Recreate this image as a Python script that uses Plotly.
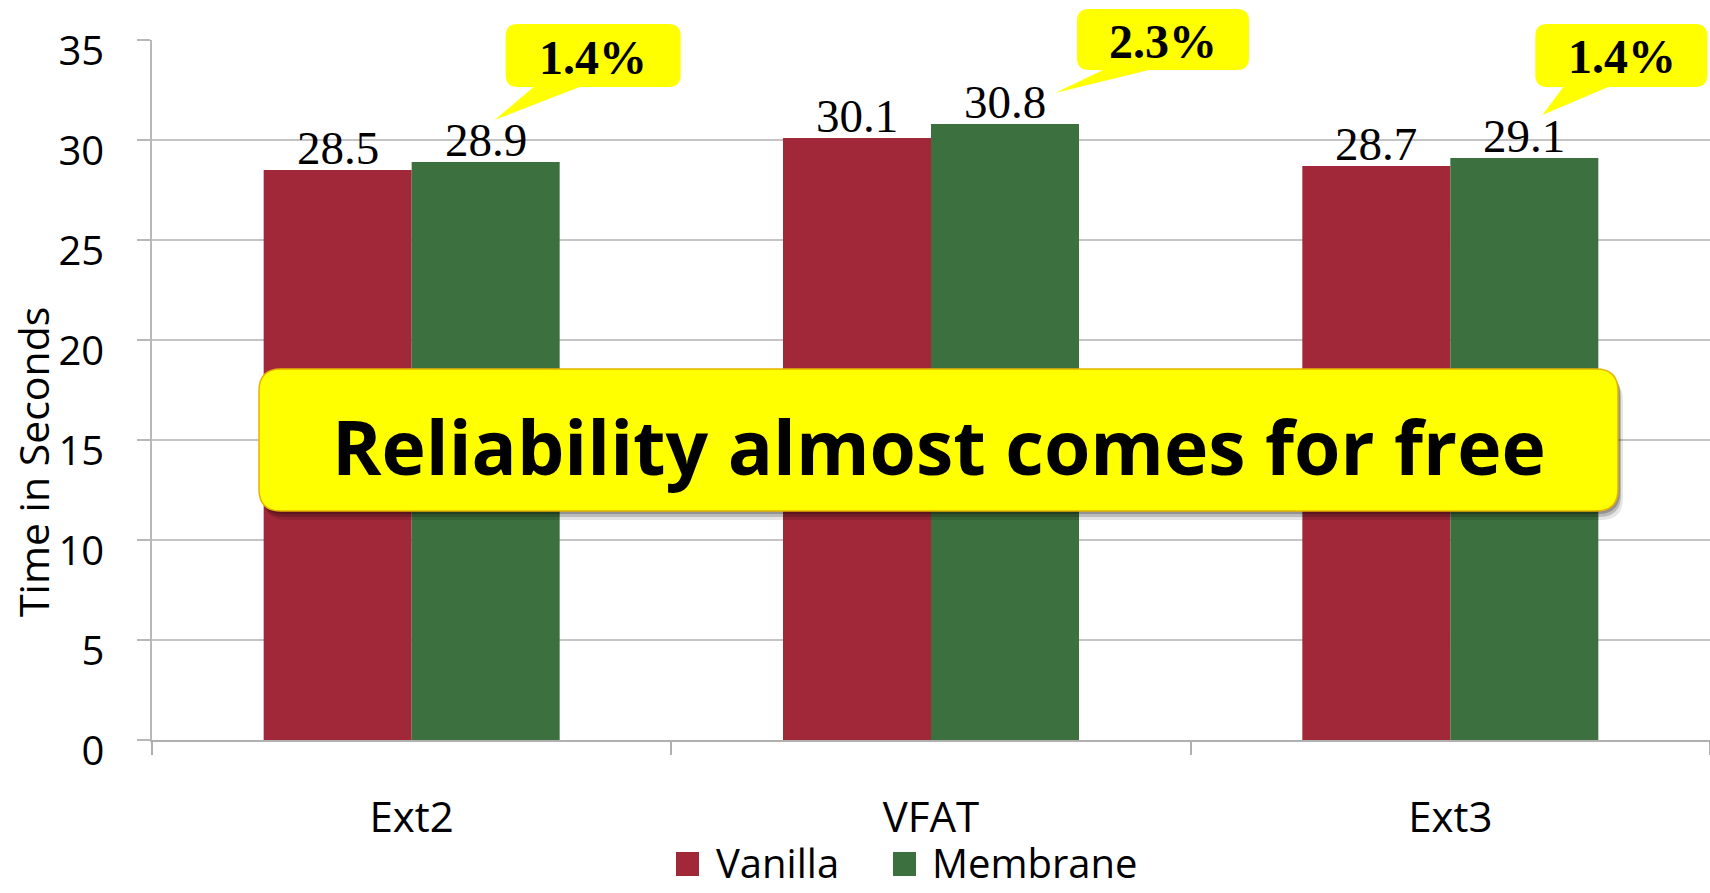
import plotly.graph_objects as go

# ---- data -------------------------------------------------------------
categories = ["Ext2", "VFAT", "Ext3"]
vanilla = [28.5, 30.1, 28.7]
membrane = [28.9, 30.8, 29.1]
overhead_labels = ["1.4%", "2.3%", "1.4%"]
y_ticks = [0, 5, 10, 15, 20, 25, 30, 35]
series_names = ["Vanilla", "Membrane"]
headline = "Reliability almost comes for free"
y_title = "Time in Seconds"

# ---- styling ----------------------------------------------------------
RED = "#A02838"
GREEN = "#3C703E"
YELLOW = "#FFFF00"
GRID = "#C4C4C4"
SANS = "Open Sans, Lato, sans-serif"
SERIF = "Liberation Serif, Times New Roman, serif"

FIG_W, FIG_H = 1710, 893
MARGIN = dict(l=152, r=0, t=40, b=153)
PLOT_W = FIG_W - MARGIN["l"] - MARGIN["r"]
PLOT_H = FIG_H - MARGIN["t"] - MARGIN["b"]
Y_MAX = y_ticks[-1]
BAR_PX = 148                      # width of a single bar in pixels
CAT_PX = PLOT_W / len(categories)
BARGAP = 1 - 2 * BAR_PX / CAT_PX
HALF = BAR_PX / 2


def px_x(p):
    """absolute pixel column -> paper x"""
    return (p - MARGIN["l"]) / PLOT_W


def px_y(p):
    """absolute pixel row -> paper y"""
    return (FIG_H - MARGIN["b"] - p) / PLOT_H


def rounded_box(L, R, B, T, r, notch=None):
    """SVG path of a rounded rectangle (y grows upward), optional pointer on the bottom edge."""
    parts = [f"M{L + r},{T}", f"L{R - r},{T}", f"Q{R},{T} {R},{T - r}",
             f"L{R},{B + r}", f"Q{R},{B} {R - r},{B}"]
    if notch is not None:
        b1, b2, tx, ty = notch
        parts += [f"L{b2},{B}", f"L{tx},{ty}", f"L{b1},{B}"]
    parts += [f"L{L + r},{B}", f"Q{L},{B} {L},{B + r}", f"L{L},{T - r}",
              f"Q{L},{T} {L + r},{T}", "Z"]
    return " ".join(parts)


fig = go.Figure()
fig.add_trace(go.Bar(name=series_names[0], x=categories, y=vanilla,
                     marker=dict(color=RED, line=dict(width=0)), showlegend=False))
fig.add_trace(go.Bar(name=series_names[1], x=categories, y=membrane,
                     marker=dict(color=GREEN, line=dict(width=0)), showlegend=False))

annotations = []
shapes = []

# value labels above each bar
for cat, v, m in zip(categories, vanilla, membrane):
    for val, shift in ((v, -HALF), (m, HALF)):
        annotations.append(dict(x=cat, y=val, xref="x", yref="y", text=f"{val:.1f}",
                                showarrow=False, xanchor="center", yanchor="bottom",
                                xshift=shift, yshift=-6,
                                font=dict(family=SERIF, size=47, color="black")))

# overhead call-outs, offsets in pixels from the Membrane bar's top
callouts = [
    dict(box=(94, 269, 75, 138), notch=(122, 168, 83, 42), text=(181, 105)),
    dict(box=(146, 318, 54, 115), notch=(172, 218, 124, 31), text=(232, 83)),
    dict(box=(85, 257, 71, 134), notch=(113, 158, 92, 43), text=(172, 102)),
]
for cat, m, lab, c in zip(categories, membrane, overhead_labels, callouts):
    L, R, B, T = c["box"]
    shapes.append(dict(type="path", xref="x", yref="paper",
                       xsizemode="pixel", ysizemode="pixel", xanchor=cat, yanchor=m / Y_MAX,
                       path=rounded_box(L, R, B, T, 12, c["notch"]),
                       fillcolor=YELLOW, line=dict(width=0), layer="above"))
    tx, ty = c["text"]
    annotations.append(dict(x=cat, y=m, xref="x", yref="y", text=f"<b>{lab}</b>",
                            showarrow=False, xanchor="center", yanchor="middle",
                            xshift=tx, yshift=ty,
                            font=dict(family=SERIF, size=48, color="black")))

# headline banner (pixel offsets from the plot's bottom-left corner)
BANNER = (107, 1466, 229, 371)
L, R, B, T = BANNER
for dx, dy, alpha in ((5, -9, 0.10), (3, -6, 0.18), (2, -3, 0.22)):
    shapes.append(dict(type="path", xref="paper", yref="paper",
                       xsizemode="pixel", ysizemode="pixel", xanchor=0, yanchor=0,
                       path=rounded_box(L + dx, R + dx, B + dy, T + dy, 22),
                       fillcolor=f"rgba(0,0,0,{alpha})", line=dict(width=0), layer="above"))
shapes.append(dict(type="path", xref="paper", yref="paper",
                   xsizemode="pixel", ysizemode="pixel", xanchor=0, yanchor=0,
                   path=rounded_box(L, R, B, T, 22),
                   fillcolor=YELLOW, line=dict(color="#E8B400", width=1.5), layer="above"))
annotations.append(dict(x=px_x(939), y=px_y(446), xref="paper", yref="paper",
                        text=f"<b>{headline}</b>", showarrow=False,
                        xanchor="center", yanchor="middle",
                        font=dict(family=SANS, size=75, color="black")))

# y-axis title
annotations.append(dict(x=px_x(33), y=px_y(462), xref="paper", yref="paper",
                        text=y_title, textangle=-90, showarrow=False,
                        xanchor="center", yanchor="middle",
                        font=dict(family=SANS, size=41, color="black")))

# legend swatches and labels
legend_items = [(series_names[0], RED, 676, 714), (series_names[1], GREEN, 893, 930)]
for name, col, sx, tx in legend_items:
    shapes.append(dict(type="rect", xref="paper", yref="paper",
                       x0=px_x(sx), x1=px_x(sx + 23), y0=px_y(876), y1=px_y(852),
                       fillcolor=col, line=dict(width=0)))
    annotations.append(dict(x=px_x(tx), y=px_y(862), xref="paper", yref="paper",
                            text=name, showarrow=False, xanchor="left", yanchor="middle",
                            font=dict(family=SANS, size=40, color="black")))

fig.update_layout(
    width=FIG_W, height=FIG_H, margin=MARGIN,
    paper_bgcolor="white", plot_bgcolor="white",
    barmode="group", bargap=BARGAP, bargroupgap=0,
    showlegend=False,
    shapes=shapes, annotations=annotations,
    xaxis=dict(type="category", categoryorder="array", categoryarray=categories,
               range=[-0.5, len(categories) - 0.5],
               showline=True, linecolor="#B0B0B0", linewidth=2,
               ticks="outside", tickson="boundaries", ticklen=13, tickcolor="#B0B0B0",
               tickwidth=1.5, showgrid=False,
               tickfont=dict(family=SANS, size=42, color="black"),
               ticklabelstandoff=40),
    yaxis=dict(range=[0, Y_MAX], tickvals=y_ticks, ticktext=[str(t) for t in y_ticks],
               showgrid=True, gridcolor=GRID, gridwidth=1.5,
               showline=True, linecolor="#B8B8B8", linewidth=1.5,
               ticks="outside", ticklen=13, tickcolor="#B8B8B8", tickwidth=1.5,
               zeroline=False,
               tickfont=dict(family=SANS, size=40, color="black"),
               ticklabelstandoff=25, ticklabelshift=11),
)

fig.write_html("out.html")
